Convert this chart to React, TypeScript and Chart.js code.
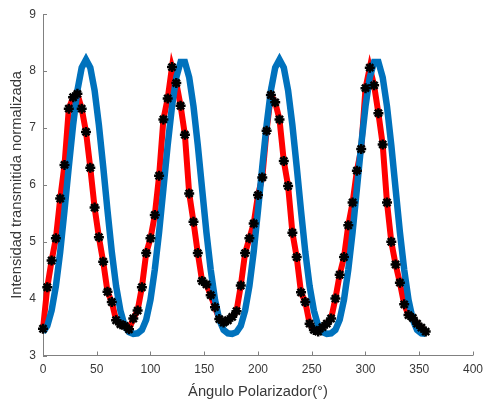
import { useEffect, useRef } from "react";
import { Chart, registerables } from "chart.js";

Chart.register(...registerables);

// Polarizer angle (degrees)
const angles = [
  0, 4, 8, 12, 16, 20, 24, 28, 32, 36,
  40, 44, 48, 52, 56, 60, 64, 68, 72, 76,
  80, 84, 88, 92, 96, 100, 104, 108, 112, 116,
  120, 124, 128, 132, 136, 140, 144, 148, 152, 156,
  160, 164, 168, 172, 176, 180, 184, 188, 192, 196,
  200, 204, 208, 212, 216, 220, 224, 228, 232, 236,
  240, 244, 248, 252, 256, 260, 264, 268, 272, 276,
  280, 284, 288, 292, 296, 300, 304, 308, 312, 316,
  320, 324, 328, 332, 336, 340, 344, 348, 352, 356,
];

// Measured normalized transmitted intensity
const measured = [
  3.47, 4.2, 4.67, 5.06, 5.76, 6.35, 7.34, 7.54, 7.6, 7.34,
  6.93, 6.3, 5.6, 5.08, 4.65, 4.12, 3.94, 3.62, 3.55, 3.52,
  3.46, 3.65, 3.79, 4.2, 4.8, 5.06, 5.47, 6.16, 7.15, 7.52,
  8.07, 7.79, 7.39, 6.88, 5.85, 5.35, 4.8, 4.31, 4.25, 4.06,
  3.85, 3.64, 3.58, 3.62, 3.68, 3.78, 4.23, 4.8, 5.06, 5.32,
  5.82, 6.13, 6.95, 7.58, 7.45, 7.15, 6.42, 5.98, 5.16, 4.73,
  4.11, 3.94, 3.56, 3.45, 3.42, 3.5, 3.56, 3.65, 4.0, 4.42,
  4.73, 5.29, 5.69, 6.25, 6.63, 7.7, 8.06, 7.75, 7.26, 6.71,
  5.69, 5.0, 4.6, 4.28, 3.9, 3.71, 3.66, 3.56, 3.49, 3.42,
];

// Theoretical normalized transmitted intensity
const theory = [
  3.41, 3.52, 3.79, 4.22, 4.82, 5.55, 6.32, 7.05, 7.66, 8.06,
  8.2, 8.06, 7.66, 7.05, 6.32, 5.55, 4.82, 4.22, 3.79, 3.52,
  3.41, 3.38, 3.39, 3.45, 3.63, 3.98, 4.51, 5.17, 5.93, 6.7,
  7.38, 7.89, 8.16, 8.16, 7.89, 7.38, 6.7, 5.93, 5.17, 4.51,
  3.98, 3.63, 3.45, 3.39, 3.38, 3.41, 3.52, 3.79, 4.22, 4.82,
  5.55, 6.32, 7.05, 7.66, 8.06, 8.2, 8.06, 7.66, 7.05, 6.32,
  5.55, 4.82, 4.22, 3.79, 3.52, 3.41, 3.38, 3.39, 3.45, 3.63,
  3.98, 4.51, 5.17, 5.93, 6.7, 7.38, 7.89, 8.16, 8.16, 7.89,
  7.38, 6.7, 5.93, 5.17, 4.51, 3.98, 3.63, 3.45, 3.39, 3.38,
];

const xRange = [0, 400];
const yRange = [3, 9];
const xStep = 50;
const yStep = 1;

const xTitle = "Ángulo Polarizador(°)";
const yTitle = "Intensidad transmitida normalizada";

const FONT = "'Liberation Sans', Arial, Helvetica, sans-serif";
const AXIS_COLOR = "#808080";
const TEXT_COLOR = "#383838";

// Inward-pointing tick marks, MATLAB style
const inwardTicks = {
  id: "inwardTicks",
  beforeDatasetsDraw(chart: any) {
    const { ctx, chartArea, scales } = chart;
    const len = 4;
    ctx.save();
    ctx.strokeStyle = AXIS_COLOR;
    ctx.lineWidth = 1;
    ctx.beginPath();
    for (const t of scales.x.ticks) {
      const px = Math.round(scales.x.getPixelForValue(t.value)) + 0.5;
      ctx.moveTo(px, chartArea.bottom);
      ctx.lineTo(px, chartArea.bottom - len);
    }
    for (const t of scales.y.ticks) {
      const py = Math.round(scales.y.getPixelForValue(t.value)) + 0.5;
      ctx.moveTo(chartArea.left, py);
      ctx.lineTo(chartArea.left + len, py);
    }
    ctx.stroke();
    ctx.restore();
  },
};

export default function App() {
  const canvasRef = useRef<HTMLCanvasElement | null>(null);

  useEffect(() => {
    const canvas = canvasRef.current;
    if (!canvas) return;
    const measuredPts = angles.map((a, i) => ({ x: a, y: measured[i] }));
    const theoryPts = angles.map((a, i) => ({ x: a, y: theory[i] }));

    const chart = new Chart(canvas, {
      type: "line",
      data: {
        datasets: [
          {
            label: "Medido",
            data: measuredPts,
            borderColor: "#ff0000",
            borderWidth: 6,
            pointRadius: 0,
            tension: 0,
            clip: false,
            order: 3,
          },
          {
            label: "Teórico",
            data: theoryPts,
            borderColor: "#0072bd",
            borderWidth: 6.5,
            pointRadius: 0,
            tension: 0,
            clip: false,
            order: 2,
          },
          {
            label: "Datos",
            data: measuredPts,
            showLine: false,
            pointStyle: "star",
            pointRadius: 5,
            pointBorderWidth: 2.5,
            pointBorderColor: "#000000",
            pointBackgroundColor: "#000000",
            clip: false,
            order: 1,
          },
        ],
      },
      options: {
        animation: false,
        responsive: false,
        events: [],
        layout: { padding: { top: 12, right: 12.5, left: 0, bottom: 0 } },
        plugins: {
          legend: { display: false },
          tooltip: { enabled: false },
        },
        scales: {
          x: {
            type: "linear",
            min: xRange[0],
            max: xRange[1],
            ticks: {
              stepSize: xStep,
              color: TEXT_COLOR,
              font: { family: FONT, size: 12 },
              padding: 7,
              maxRotation: 0,
            },
            grid: { display: false, drawTicks: false },
            border: { display: true, color: AXIS_COLOR, width: 1 },
            title: {
              display: true,
              text: xTitle,
              color: TEXT_COLOR,
              font: { family: FONT, size: 14.7 },
              padding: { top: 2, bottom: 2.5 },
            },
            afterFit: (scale: any) => {
              scale.height = 47.5;
            },
          },
          y: {
            type: "linear",
            min: yRange[0],
            max: yRange[1],
            ticks: {
              stepSize: yStep,
              color: TEXT_COLOR,
              font: { family: FONT, size: 12 },
              padding: 7,
            },
            grid: { display: false, drawTicks: false },
            border: { display: true, color: AXIS_COLOR, width: 1 },
            title: {
              display: true,
              text: yTitle,
              color: TEXT_COLOR,
              font: { family: FONT, size: 14.7 },
              padding: { top: 7.7, bottom: 0 },
            },
            afterFit: (scale: any) => {
              scale.width = 43;
            },
          },
        },
      },
      plugins: [inwardTicks],
    });

    return () => chart.destroy();
  }, []);

  return (
    <div
      style={{
        position: "absolute",
        left: 0,
        top: 0,
        width: 490,
        height: 403,
        background: "#ffffff",
      }}
    >
      <canvas ref={canvasRef} width={490} height={403} />
    </div>
  );
}
